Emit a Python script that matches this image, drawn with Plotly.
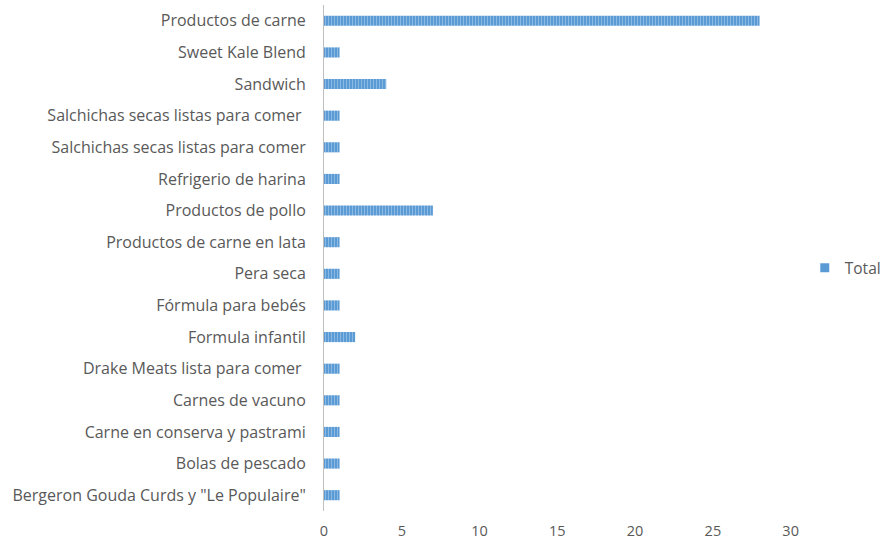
import plotly.graph_objects as go

categories = [
    "Productos de carne",
    "Sweet Kale Blend",
    "Sandwich",
    "Salchichas secas listas para comer\u00a0",
    "Salchichas secas listas para comer",
    "Refrigerio de harina",
    "Productos de pollo",
    "Productos de carne en lata",
    "Pera seca",
    "Fórmula para bebés",
    "Formula infantil",
    "Drake Meats lista para comer\u00a0",
    "Carnes de vacuno",
    "Carne en conserva y pastrami",
    "Bolas de pescado",
    'Bergeron Gouda Curds y "Le Populaire"',
]
totals = [28, 1, 4, 1, 1, 1, 7, 1, 1, 1, 2, 1, 1, 1, 1, 1]
x_ticks = [0, 5, 10, 15, 20, 25, 30]

text_color = "#595959"
bar_color = "#5B9BD5"
font_family = "'Open Sans', sans-serif"

fig = go.Figure()
fig.add_trace(
    go.Bar(
        x=totals,
        y=categories,
        orientation="h",
        name="Total",
        showlegend=False,
        marker=dict(
            color=bar_color,
            line=dict(width=0),
            pattern=dict(shape="|", fgcolor="#ffffff", bgcolor=bar_color,
                         size=3, solidity=0.2, fillmode="overlay"),
        ),
    )
)
# legend key drawn as a plain solid square
fig.add_trace(
    go.Scatter(
        x=[None], y=[None], mode="markers", name="Total",
        marker=dict(symbol="square", size=9, color=bar_color),
    )
)

fig.update_layout(
    width=886,
    height=541,
    margin=dict(l=324, r=86, t=5, b=30, autoexpand=False),
    paper_bgcolor="white",
    plot_bgcolor="white",
    bargap=0.68,
    font=dict(family=font_family, size=16, color=text_color),
    showlegend=True,
    legend=dict(x=1.01, y=0.48, xanchor="left", yanchor="middle",
                font=dict(size=15.5, color=text_color), itemwidth=30,
                tracegroupgap=0),
)

fig.update_xaxes(
    range=[0, 30.6],
    tickvals=x_ticks,
    showgrid=False,
    zeroline=False,
    showline=False,
    ticks="",
    ticklabelstandoff=9,
    tickfont=dict(size=14.5),
)
fig.update_yaxes(
    categoryorder="array",
    categoryarray=categories,
    autorange="reversed",
    showgrid=False,
    showline=True,
    linecolor="#bfbfbf",
    linewidth=1,
    ticks="",
    ticklabelstandoff=14,
)

fig.write_html("out.html")
